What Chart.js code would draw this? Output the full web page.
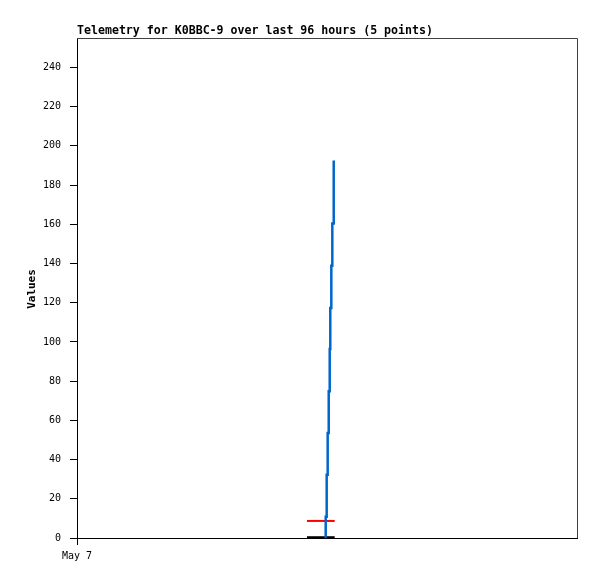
<!DOCTYPE html>
<html lang="en">
<head>
  <meta charset="UTF-8" />
  <title>Telemetry for K0BBC-9</title>
  <script src="https://cdn.jsdelivr.net/npm/chart.js"></script>
  <style>
    html, body { margin:0; padding:0; background:#fff; }
    #telemetryChart { display:block; }
  </style>
</head>
<body>
  <canvas id="telemetryChart" width="597" height="579"></canvas>

  <script>
    // hours since start of window (May 7 00:00), 96 hour window
    const hoursRange = 96;
    const xTickLabels = ['May 7'];
    const yTicks = [0, 20, 40, 60, 80, 100, 120, 140, 160, 180, 200, 220, 240];
    const yMax = 255;

    const blueHours = [47.56, 47.75, 47.94, 48.13, 48.33, 48.52, 48.63, 48.83, 49.02, 49.29, 49.29];
    const blueValues = [0, 10.9, 32.2, 53.5, 74.9, 96.4, 117.3, 138.9, 160.4, 181.7, 192.5];

    const redHours = [44.16, 49.48];
    const redValues = [8.7, 8.7];

    const blackHours = [44.16, 49.48];
    const blackValues = [0.4, 0.4];

    const monoFont = '"DejaVu Sans Mono", "Liberation Mono", monospace';

    function toPoints(xs, ys) {
      return xs.map((x, i) => ({ x: x, y: ys[i] }));
    }

    // title, y axis title and the top/right frame
    const decorPlugin = {
      id: 'decor',
      afterDraw(chart) {
        const { ctx, chartArea } = chart;
        ctx.save();
        ctx.strokeStyle = '#404040';
        ctx.lineWidth = 1;
        ctx.beginPath();
        ctx.moveTo(chartArea.left, chartArea.top + 0.5);
        ctx.lineTo(chartArea.right + 0.5, chartArea.top + 0.5);
        ctx.lineTo(chartArea.right + 0.5, chartArea.bottom);
        ctx.stroke();

        ctx.fillStyle = '#000';
        ctx.font = 'bold 11.6px ' + monoFont;
        ctx.textAlign = 'left';
        ctx.textBaseline = 'middle';
        ctx.fillText('Telemetry for K0BBC-9 over last 96 hours (5 points)', chartArea.left, 31);

        ctx.translate(32, 289);
        ctx.rotate(-Math.PI / 2);
        ctx.font = 'bold 11px ' + monoFont;
        ctx.textAlign = 'center';
        ctx.fillText('Values', 0, 0);
        ctx.restore();
      }
    };

    new Chart(document.getElementById('telemetryChart'), {
      type: 'line',
      data: {
        datasets: [
          {
            data: toPoints(blueHours, blueValues),
            borderColor: '#0066cc',
            borderWidth: 2.5,
            stepped: 'before',
            pointRadius: 0,
            order: 0
          },
          {
            data: toPoints(redHours, redValues),
            borderColor: '#ff0000',
            borderWidth: 2,
            pointRadius: 0,
            order: 1
          },
          {
            data: toPoints(blackHours, blackValues),
            borderColor: '#000000',
            borderWidth: 2,
            pointRadius: 0,
            order: 2
          }
        ]
      },
      options: {
        responsive: false,
        animation: false,
        layout: { padding: { top: 38, right: 20, left: 0, bottom: 0 } },
        plugins: {
          legend: { display: false },
          tooltip: { enabled: false },
          title: { display: false }
        },
        scales: {
          x: {
            type: 'linear',
            min: 0,
            max: hoursRange,
            afterBuildTicks: (scale) => { scale.ticks = xTickLabels.map((_, i) => ({ value: i * 24 })); },
            afterFit: (scale) => { scale.height = 41; },
            ticks: {
              color: '#000',
              font: { family: monoFont, size: 10 },
              padding: 5,
              maxRotation: 0,
              callback: (v, i) => xTickLabels[i]
            },
            grid: { drawOnChartArea: false, drawTicks: true, tickLength: 7, color: '#000' },
            border: { display: true, color: '#000', width: 1 }
          },
          y: {
            min: 0,
            max: yMax,
            afterBuildTicks: (scale) => { scale.ticks = yTicks.map(v => ({ value: v })); },
            afterFit: (scale) => { scale.width = 77; },
            ticks: {
              color: '#000',
              font: { family: monoFont, size: 10 },
              padding: 9
            },
            grid: { drawOnChartArea: false, drawTicks: true, tickLength: 7, color: '#000' },
            border: { display: true, color: '#000', width: 1 }
          }
        }
      },
      plugins: [decorPlugin]
    });
  </script>
</body>
</html>
